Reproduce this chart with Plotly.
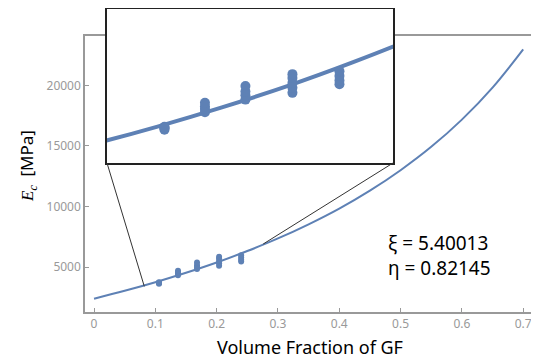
import plotly.graph_objects as go

# ---- data ----
curve_v = [0.0, 0.05, 0.10, 0.15, 0.20, 0.25, 0.30, 0.35, 0.40, 0.45, 0.50, 0.55, 0.60, 0.65, 0.70]
curve_e = [2380, 3030, 3740, 4520, 5370, 6320, 7360, 8530, 9830, 11310, 13000, 14930, 17180, 19830, 22990]

pts_v = [0.106, 0.106, 0.106, 0.106,
         0.137, 0.137, 0.137, 0.137,
         0.168, 0.168, 0.168, 0.168,
         0.204, 0.204, 0.204, 0.204, 0.204,
         0.240, 0.240, 0.240, 0.240]
pts_e = [3620, 3680, 3740, 3700,
         4320, 4450, 4560, 4700,
         4830, 5000, 5150, 5370,
         5100, 5300, 5500, 5700, 5850,
         5450, 5600, 5780, 5970]

x_ticks = [0, 0.1, 0.2, 0.3, 0.4, 0.5, 0.6, 0.7]
x_tick_text = ["0", "0.1", "0.2", "0.3", "0.4", "0.5", "0.6", "0.7"]
y_ticks = [5000, 10000, 15000, 20000]
y_tick_text = ["5000", "10000", "15000", "20000"]

fit_text = ["ξ = 5.40013", "η = 0.82145"]

# ---- layout geometry (page has an 8px body margin) ----
OFF = 8
W, H = 539 - OFF, 359 - OFF
ML, MR, MT, MB = 85 - OFF, 6, 1, 47
PW = W - ML - MR          # 448
PH = H - MT - MB          # 303


def px(X):  # reference pixel x -> paper x
    return (X - 85) / PW


def py(Y):  # reference pixel y -> paper y
    return (312 - Y) / PH


main_x_range = [-0.0147, 0.716]
main_y_range = [1281, 24090]
main_y_dom = [0, py(36)]
inset_x_dom = [px(107), px(393)]
inset_y_dom = [py(163), 1.0]
inset_x_range = [0.062, 0.281]
inset_y_range = [2290, 8460]

BLUE = "#5e81b5"
GRAY = "#999999"
FONT = "Noto Sans"

fig = go.Figure()
fig.add_trace(go.Scatter(x=curve_v, y=curve_e, mode="lines", line=dict(color=BLUE, width=2, shape="spline"),
                         xaxis="x", yaxis="y", showlegend=False, hoverinfo="skip"))
fig.add_trace(go.Scatter(x=pts_v, y=pts_e, mode="markers", marker=dict(color=BLUE, size=6),
                         xaxis="x", yaxis="y", showlegend=False))
fig.add_trace(go.Scatter(x=curve_v, y=curve_e, mode="lines", line=dict(color=BLUE, width=4, shape="spline"),
                         xaxis="x2", yaxis="y2", showlegend=False, hoverinfo="skip"))
fig.add_trace(go.Scatter(x=pts_v, y=pts_e, mode="markers", marker=dict(color=BLUE, size=10),
                         xaxis="x2", yaxis="y2", showlegend=False))


def paper_to_main(pxx, pyy):
    xd = main_x_range[0] + pxx * (main_x_range[1] - main_x_range[0])
    fy = (pyy - main_y_dom[0]) / (main_y_dom[1] - main_y_dom[0])
    yd = main_y_range[0] + fy * (main_y_range[1] - main_y_range[0])
    return xd, yd


bl = paper_to_main(inset_x_dom[0], inset_y_dom[0])
br = paper_to_main(inset_x_dom[1], inset_y_dom[0])
fig.add_shape(type="line", xref="x", yref="y", x0=bl[0], y0=bl[1], x1=0.082, y1=3400,
              line=dict(color="#333333", width=1))
fig.add_shape(type="line", xref="x", yref="y", x0=br[0], y0=br[1], x1=0.276, y1=6900,
              line=dict(color="#333333", width=1))

fig.update_layout(
    width=W, height=H,
    margin=dict(l=ML, r=MR, t=MT, b=MB, autoexpand=False),
    paper_bgcolor="white", plot_bgcolor="white",
    font=dict(family=FONT, size=12, color=GRAY),
    xaxis=dict(domain=[0, 1], range=main_x_range, anchor="y",
               showline=True, mirror=True, linecolor=GRAY, linewidth=1.5,
               ticks="inside", ticklen=4, tickcolor=GRAY, tickwidth=1,
               tickvals=x_ticks, ticktext=x_tick_text, showgrid=False, zeroline=False,
               tickfont=dict(size=12, color=GRAY)),
    yaxis=dict(domain=main_y_dom, range=main_y_range, anchor="x",
               showline=True, mirror=True, linecolor=GRAY, linewidth=1.5,
               ticks="inside", ticklen=4, tickcolor=GRAY, tickwidth=1,
               tickvals=y_ticks, ticktext=y_tick_text, showgrid=False, zeroline=False,
               tickfont=dict(size=12, color=GRAY)),
    xaxis2=dict(domain=inset_x_dom, range=inset_x_range, anchor="y2",
                showline=True, mirror=True, linecolor="#222222", linewidth=2,
                showticklabels=False, ticks="", showgrid=False, zeroline=False),
    yaxis2=dict(domain=inset_y_dom, range=inset_y_range, anchor="x2",
                showline=True, mirror=True, linecolor="#222222", linewidth=2,
                showticklabels=False, ticks="", showgrid=False, zeroline=False),
)

fig.add_annotation(text="Volume Fraction of GF", xref="paper", yref="paper",
                   x=px(310), y=py(347), showarrow=False,
                   font=dict(family=FONT, size=18, color="black"), xanchor="center", yanchor="middle")
fig.add_annotation(text="<span style='font-family:Liberation Serif'><i>E</i><sub><i>c</i></sub></span>  [MPa]",
                   xref="paper", yref="paper",
                   x=px(28), y=py(166), showarrow=False,
                   textangle=-90, font=dict(family=FONT, size=17, color="black"),
                   xanchor="center", yanchor="middle")
for i, t in enumerate(fit_text):
    fig.add_annotation(text=t, xref="paper", yref="paper",
                       x=px(386), y=py(243 + 25 * i),
                       showarrow=False, font=dict(family=FONT, size=19, color="black"),
                       xanchor="left", yanchor="middle")

fig.write_html("out.html")
